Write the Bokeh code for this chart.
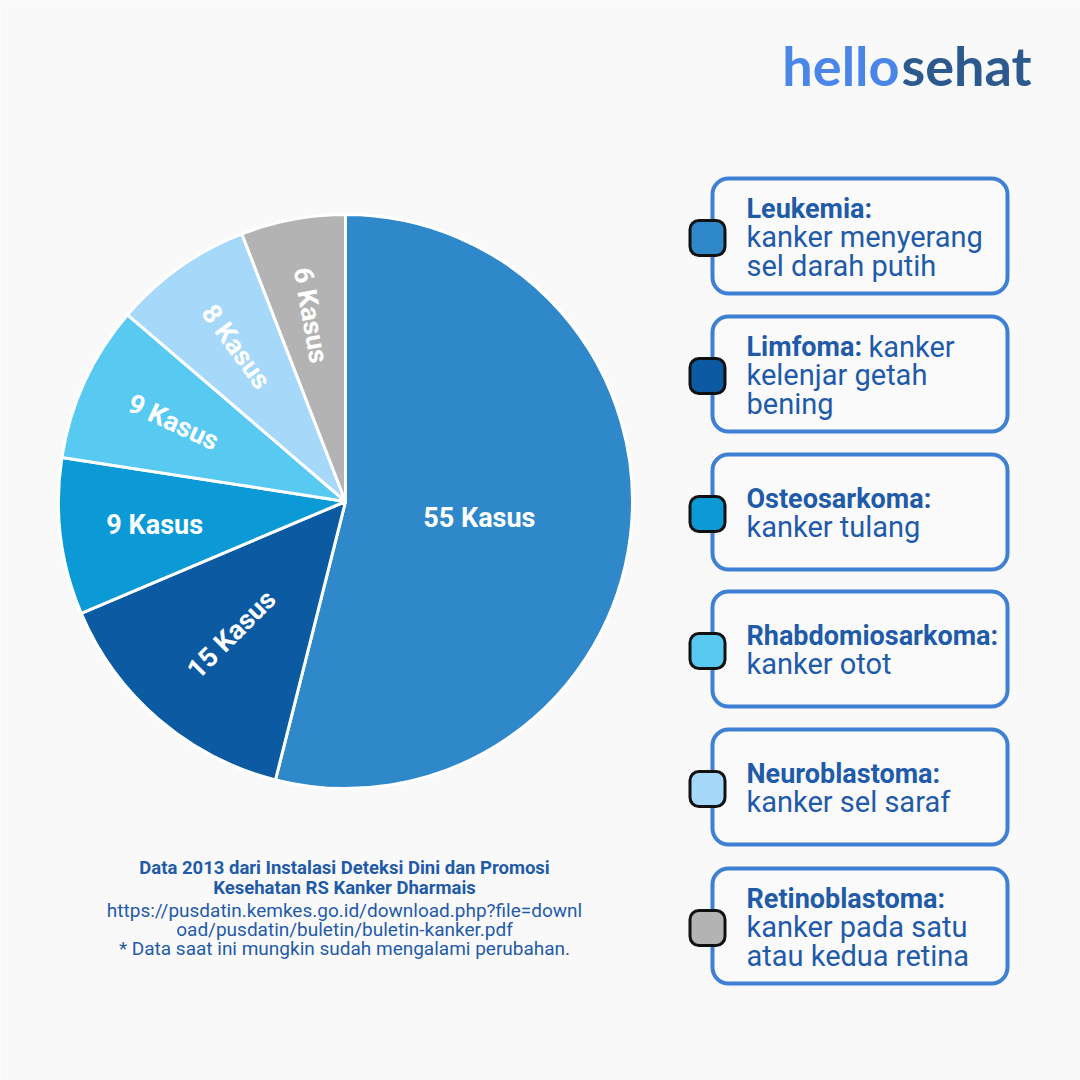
import math
from bokeh.plotting import figure
from bokeh.models import ColumnDataSource, Range1d
from bokeh.core.properties import value
from bokeh.embed import file_html
from bokeh.resources import INLINE

# ---------------- data ----------------
categories = ["Leukemia", "Limfoma", "Osteosarkoma", "Rhabdomiosarkoma", "Neuroblastoma", "Retinoblastoma"]
cases = [55, 15, 9, 9, 8, 6]
slice_labels = ["55 Kasus", "15 Kasus", "9 Kasus", "9 Kasus", "8 Kasus", "6 Kasus"]
descriptions = [
    ["kanker menyerang", "sel darah putih"],
    ["kanker", "kelenjar getah", "bening"],
    ["kanker tulang"],
    ["kanker otot"],
    ["kanker sel saraf"],
    ["kanker pada satu", "atau kedua retina"],
]
footer_bold = ["Data 2013 dari Instalasi Deteksi Dini dan Promosi", "Kesehatan RS Kanker Dharmais"]
footer_regular = ["https://pusdatin.kemkes.go.id/download.php?file=downl",
                  "oad/pusdatin/buletin/buletin-kanker.pdf",
                  "* Data saat ini mungkin sudah mengalami perubahan."]

# ---------------- styles ----------------
colors = ["#2E88CA", "#0B5AA2", "#0B9AD5", "#58C9F1", "#A6D8FA", "#B3B3B3"]
label_rot_deg = [0, 45, 0, -25, -54, -80]
label_rfrac = [0.47, 0.61, 0.67, 0.66, 0.66, 0.66]
BG = "#F9F9F9"
TXT = "#1F5BA8"
W = H = 1080
FONT = "Roboto"

def Y(py):
    return H - py

p = figure(width=W, height=H, output_backend="svg", toolbar_location=None,
           x_range=Range1d(0, W), y_range=Range1d(0, H), min_border=0)
p.axis.visible = False
p.grid.visible = False
p.outline_line_color = None
p.background_fill_color = BG
p.border_fill_color = BG

# ---------------- pie ----------------
cx, cy, R = 345, Y(501), 287
total = sum(cases)
starts, ends, mids = [], [], []
a = math.pi / 2
for v in cases:
    da = v / total * 2 * math.pi
    starts.append(a - da)
    ends.append(a)
    mids.append(a - da / 2)
    a -= da

src = ColumnDataSource(dict(start=starts, end=ends, color=colors))
p.wedge(x=cx, y=cy, radius=R, start_angle="start", end_angle="end",
        fill_color="color", line_color="white", line_width=3, source=src)

lx = [cx + f * R * math.cos(m) for f, m in zip(label_rfrac, mids)]
ly = [cy + f * R * math.sin(m) for f, m in zip(label_rfrac, mids)]
lsrc = ColumnDataSource(dict(x=lx, y=ly, text=slice_labels,
                             angle=[math.radians(r) for r in label_rot_deg]))
p.text(x="x", y="y", text="text", angle="angle", source=lsrc,
       text_color="white", text_font=value(FONT), text_font_style="bold",
       text_font_size="27px", text_align="center", text_baseline="middle")

# ---------------- legend boxes ----------------
box_tops = [178, 316, 454, 591, 729, 868]
box_h = 115
box_l, box_r = 712, 1007
tx = 746
for i, cat in enumerate(categories):
    top = box_tops[i]
    p.quad(left=box_l, right=box_r, top=Y(top), bottom=Y(top + box_h),
           fill_color="#FAFAFB", line_color="#3E80D3", line_width=4, border_radius=16)
    mc = top + box_h / 2 + 2
    p.rect(x=707, y=Y(mc), width=35, height=35, fill_color=colors[i],
           line_color="#111111", line_width=3, border_radius=9)
    desc = descriptions[i]
    nlines = 1 + len(desc) if i != 1 else len(desc)
    lh = 28.5
    first_base = top + box_h / 2 - (nlines - 1) * lh / 2 + 1
    p.text(x=tx, y=Y(first_base), text=[cat + ":"], text_color=TXT,
           text_font=value(FONT), text_font_style="bold", text_font_size="27px",
           text_align="left", text_baseline="alphabetic")
    if i == 1:
        p.text(x=868, y=Y(first_base), text=[desc[0]], text_color=TXT,
               text_font=value(FONT), text_font_size="29px",
               text_align="left", text_baseline="alphabetic")
        rest = desc[1:]
    else:
        rest = desc
    for j, line in enumerate(rest):
        p.text(x=tx, y=Y(first_base + (1 + j) * lh), text=[line], text_color=TXT,
               text_font=value(FONT), text_font_size="29px",
               text_align="left", text_baseline="alphabetic")

# ---------------- footer ----------------
fx = 344
fy = [867, 887]
for line, yy in zip(footer_bold, fy):
    p.text(x=fx, y=Y(yy), text=[line], text_color=TXT, text_font=value(FONT),
           text_font_style="bold", text_font_size="18.5px", text_align="center",
           text_baseline="alphabetic")
fy2 = [910, 929, 948]
for line, yy in zip(footer_regular, fy2):
    p.text(x=fx, y=Y(yy), text=[line], text_color=TXT, text_font=value(FONT),
           text_font_size="19px", text_align="center", text_baseline="alphabetic")

# ---------------- logo ----------------
p.text(x=899, y=Y(65), text=["hello"], text_color="#4A86E8", text_font=value("Lato"),
       text_font_style="bold", text_font_size="54px", text_align="right",
       text_baseline="alphabetic")
p.text(x=901, y=Y(65), text=["sehat"], text_color="#2C5A8E", text_font=value("Lato"),
       text_font_style="bold", text_font_size="54px", text_align="left",
       text_baseline="alphabetic")

open("out.html", "w").write(file_html(p, INLINE))
